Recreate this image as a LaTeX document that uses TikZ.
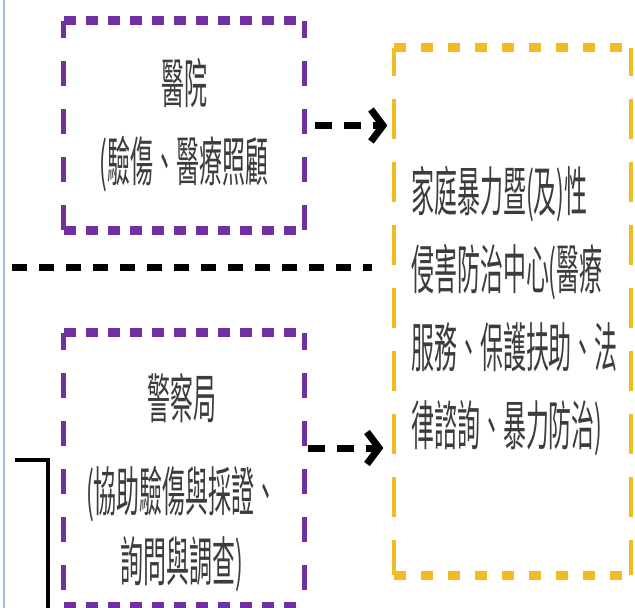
\documentclass[tikz,border=0pt]{standalone}
\usepackage{fontspec}
\newfontfamily\cjk[FakeStretch=0.43]{Noto Sans CJK TC}
\usetikzlibrary{arrows.meta}

\definecolor{boxpurple}{HTML}{7030A0}
\definecolor{boxyellow}{HTML}{F0BC22}
\definecolor{edgeblue}{HTML}{9DBEDC}
\definecolor{textgray}{HTML}{3C3C3C}

\tikzset{
  hpurple/.style={boxpurple, line width=4.5mm, dash pattern=on 6mm off 5mm},
  vpurple/.style={boxpurple, line width=2.5mm, dash pattern=on 12.5mm off 11.5mm, dash phase=4mm},
  hyellow/.style={boxyellow, line width=4.5mm, dash pattern=on 6mm off 7.5mm},
  vyellow/.style={boxyellow, line width=2mm, dash pattern=on 20mm off 11.5mm, dash phase=6mm},
  blackdash/.style={black, line width=3.5mm, dash pattern=on 7.5mm off 6mm},
  linkarrow/.style={black, line width=3.5mm, dash pattern=on 8.5mm off 6mm,
    -{Straight Barb[length=6mm,width=16mm]}},
  cjktext/.style={font=\cjk\fontsize{76}{111}\selectfont, text=textgray, inner sep=0pt},
}

\begin{document}
\begin{tikzpicture}[x=0.5mm, y=-0.5mm]

\useasboundingbox (0,0) rectangle (635,607);
\clip (0,0) rectangle (635,607);

% Define the three boxes
\node[minimum width=120mm, minimum height=104.5mm, inner sep=0pt] (hosp) at (184,125.5) {};
\node[minimum width=120mm, minimum height=136.5mm, inner sep=0pt] (police) at (184,469.5) {};
\node[minimum width=118mm, minimum height=263.5mm, inner sep=0pt] (center) at (512.5,311.5) {};

% Box texts
\node[cjktext, align=center] (hosptext) at (hosp.center) {醫院\\(驗傷、醫療照顧};
\node[cjktext, align=center] (policetext) at (182,483)
  {警察局\\[21pt](協助驗傷與採證、\\[-11pt]詢問與調查)};
\node[cjktext, align=left, anchor=west] (centertext) at (411,311)
  {家庭暴力暨(及)性\\侵害防治中心(醫療\\服務、保護扶助、法\\律諮詢、暴力防治)};

% Draw hospital box
\draw[hpurple] (hosp.north west) -- (hosp.north east);
\draw[hpurple] (hosp.south west) -- (hosp.south east);
\draw[vpurple] (hosp.north west) -- (hosp.south west);
\draw[vpurple] (hosp.north east) -- (hosp.south east);

% Draw police box
\draw[hpurple] (police.north west) -- (police.north east);
\draw[hpurple] (police.south west) -- (police.south east);
\draw[vpurple] (police.north west) -- (police.south west);
\draw[vpurple] (police.north east) -- (police.south east);

% Draw center box
\draw[hyellow] (center.north west) -- (center.north east);
\draw[hyellow] (center.south west) -- (center.south east);
\draw[vyellow] (center.north west) -- (center.south west);
\draw[vyellow] (center.north east) -- (center.south east);

% Arrows into the center box
\draw[linkarrow, shorten <=5.5mm, shorten >=3.5mm] (hosp.east) -- (hosp.east -| center.west);
\coordinate (policeout) at ([yshift=10.75mm]police.east);
\draw[linkarrow, shorten <=2mm, shorten >=5.5mm] (policeout) -- (policeout -| center.west);

% Separator line
\coordinate (sepleft) at (12,267);
\coordinate (sepright) at (372,267);
\draw[blackdash] (sepleft) -- (sepright);

% Solid link on the left
\coordinate (linkstart) at (15,460);
\coordinate (linkend) at (48,615);
\draw[black, line width=2mm] (linkstart) -| (linkend);

% Left frame edge
\coordinate (frametop) at (4,-5);
\coordinate (framebottom) at (4,615);
\draw[edgeblue, line width=1mm] (frametop) -- (framebottom);

\end{tikzpicture}
\end{document}
